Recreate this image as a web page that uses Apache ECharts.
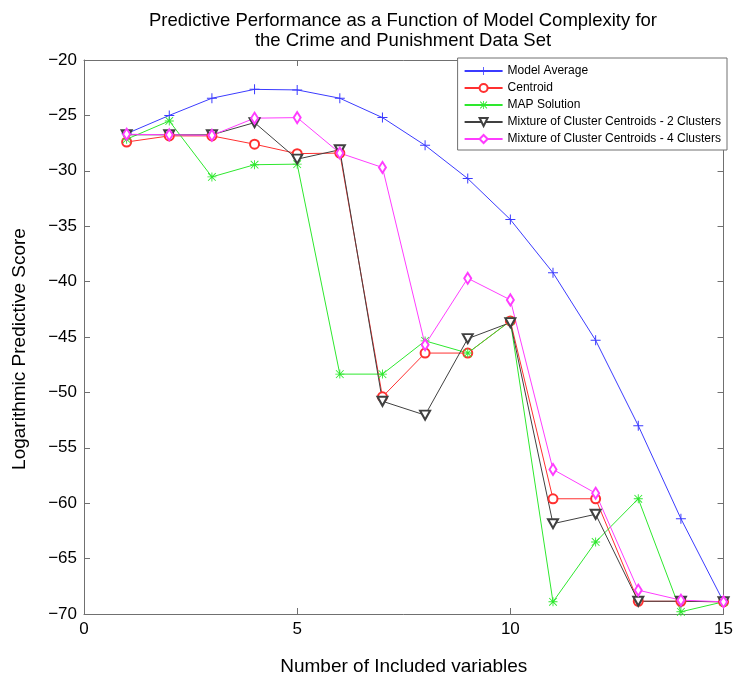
<!DOCTYPE html>
<html><head><meta charset="utf-8">
<script src="https://cdn.jsdelivr.net/npm/echarts@6/dist/echarts.min.js"></script>
<style>html,body{margin:0;padding:0;background:#fff}#c{width:736px;height:681px}</style>
</head><body><div id="c"></div>
<script>
const xs = [1,2,3,4,5,6,7,8,9,10,11,12,13,14,15];
const modelAverage = [-26.65,-25.0,-23.45,-22.65,-22.7,-23.45,-25.2,-27.7,-30.7,-34.4,-39.2,-45.3,-53.0,-61.4,-68.9];
const centroid = [-27.4,-26.85,-26.85,-27.6,-28.45,-28.4,-50.4,-46.45,-46.45,-43.55,-59.6,-59.6,-68.85,-68.85,-68.9];
const mapSolution = [-27.15,-25.5,-30.55,-29.45,-29.4,-48.35,-48.35,-45.35,-46.45,-43.55,-68.9,-63.5,-59.6,-69.8,-68.9];
const mix2 = [-26.75,-26.75,-26.75,-25.65,-28.95,-28.1,-50.8,-52.05,-45.15,-43.7,-61.85,-61.0,-68.85,-68.85,-68.9];
const mix4 = [-26.7,-26.75,-26.8,-25.25,-25.2,-28.4,-29.7,-45.7,-39.7,-41.65,-56.95,-59.1,-67.85,-68.75,-68.9];
const seriesNames = ['Model Average','Centroid','MAP Solution','Mixture of Cluster Centroids - 2 Clusters','Mixture of Cluster Centroids - 4 Clusters'];
const yTicks = {min:-70, max:-20, step:5};
const xTicks = {min:0, max:15, step:5};

const plusPath = 'path://M4.5,0h1v10h-1z M0,4.5h10v1h-10z';
const starPath = 'path://M4.5,0h1v10h-1z M0,4.5h10v1h-10z M1.1,0.4L9.6,8.9L8.9,9.6L0.4,1.1z M8.9,0.4L9.6,1.1L1.1,9.6L0.4,8.9z';

const colors = ['#3b3bff','#ff3030','#2ee82e','#404040','#ff3cff'];
const seriesData = [modelAverage, centroid, mapSolution, mix2, mix4];
const symbols = [plusPath,'emptyCircle',starPath,'emptyTriangle','emptyDiamond'];
const sizes = [[10,10],9,[9,9],[10,9],[7,11]];
const rot = [0,0,0,180,0];

const fmt = v => String(v).replace('-', '\u2212');
const chart = echarts.init(document.getElementById('c'), null, {renderer:'canvas'});
const font = 'Liberation Sans, Arial, Helvetica, sans-serif';
const axCol = '#707070';
const tick = {show:true, inside:true, length:6, lineStyle:{color:axCol, width:1}};
const line = {show:true, onZero:false, lineStyle:{color:axCol, width:1}};

const series = seriesData.map((d,i)=>({
  name: seriesNames[i], type:'line',
  data: d.map((v,j)=>[xs[j], v]),
  symbol: symbols[i], symbolSize: sizes[i], symbolRotate: rot[i],
  showAllSymbol: true,
  lineStyle:{color:colors[i], width:1},
  itemStyle:{color:colors[i], borderColor:colors[i], borderWidth: (i===0||i===2)?0:1},
  emphasis:{disabled:true},
  animation:false,
  xAxisIndex:0, yAxisIndex:0
}));

chart.setOption({
  animation:false,
  title:{
    text:'Predictive Performance as a Function of Model Complexity for\nthe Crime and Punishment Data Set',
    left:398, top:6, textAlign:'center',
    textStyle:{fontFamily:font, fontSize:18.5, fontWeight:'normal', color:'#000', lineHeight:20}
  },
  grid:{left:84, right:9, top:60, bottom:66, containLabel:false},
  legend:{
    data: seriesNames.map((n,i)=>({name:n})),
    orient:'vertical', right:9, top:58,
    backgroundColor:'#fff', borderColor:axCol, borderWidth:1,
    padding:[6,6,4,6], itemGap:3, itemWidth:38, itemHeight:10,
    textStyle:{fontFamily:font, fontSize:12, color:'#000', lineHeight:14}
  },
  xAxis:[
    {type:'value', min:xTicks.min, max:xTicks.max, interval:xTicks.step, position:'bottom',
     name:'Number of Included variables', nameLocation:'middle', nameGap:43,
     nameTextStyle:{fontFamily:font, fontSize:19, color:'#000'},
     axisLine:line, axisTick:tick,
     axisLabel:{fontFamily:font, fontSize:17, color:'#000', margin:7, formatter:fmt},
     splitLine:{show:false}},
    {type:'value', min:xTicks.min, max:xTicks.max, interval:xTicks.step, position:'top',
     axisLine:line, axisTick:tick,
     axisLabel:{show:false}, splitLine:{show:false}}
  ],
  yAxis:[
    {type:'value', min:yTicks.min, max:yTicks.max, interval:yTicks.step, position:'left',
     name:'Logarithmic Predictive Score', nameLocation:'middle', nameGap:55, nameRotate:90,
     nameTextStyle:{fontFamily:font, fontSize:19, color:'#000', padding:[0,24,0,0]},
     axisLine:line, axisTick:tick,
     axisLabel:{fontFamily:font, fontSize:17, color:'#000', margin:7, formatter:fmt},
     splitLine:{show:false}},
    {type:'value', min:yTicks.min, max:yTicks.max, interval:yTicks.step, position:'right',
     axisLine:line, axisTick:tick,
     axisLabel:{show:false}, splitLine:{show:false}}
  ],
  series: series
});
</script></body></html>
